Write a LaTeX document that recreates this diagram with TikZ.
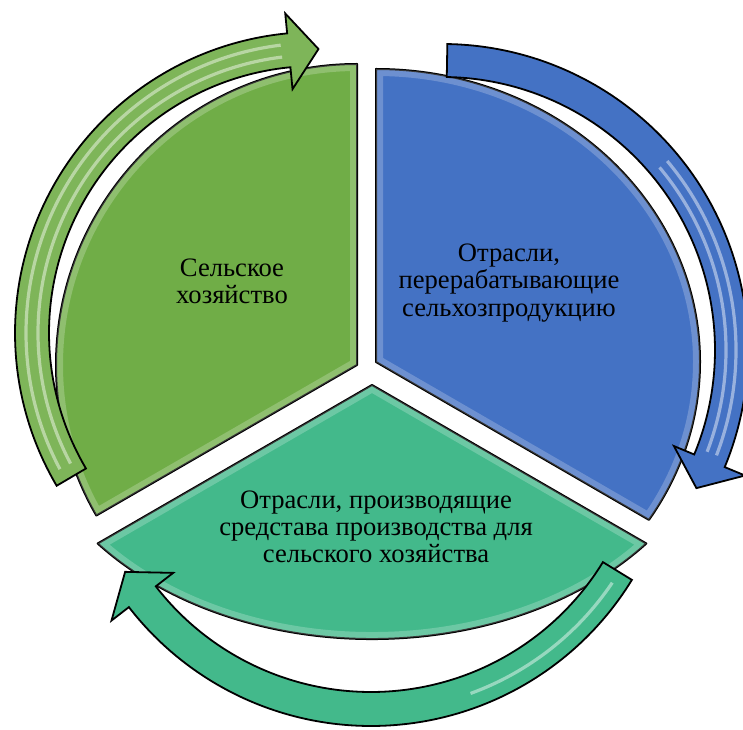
\documentclass[tikz,border=0pt]{standalone}
\usepackage{fontspec}
\setmainfont{Liberation Serif}
\definecolor{agrigreen}{RGB}{112, 173, 71}
\definecolor{procblue}{RGB}{68, 114, 196}
\definecolor{meansteal}{RGB}{67, 185, 139}
\usetikzlibrary{calc}

\tikzset{
  sector/.style={draw=black, line width=1pt, line join=round},
  cyclearrow/.style={draw=black, line width=0.9pt, line join=miter},
  bevel/.style={white, opacity=0.22, line width=7pt},
  gloss/.style={white, opacity=0.45, line width=1.6pt},
  sectortext/.style={align=center, text=black, font=\fontsize{13.3}{13.6}\selectfont},
}

% sector outlines (apex, straight edge, outer arc)
\newcommand{\agrisector}{(357,364) -- ++(0,301) arc[start angle=90, end angle=210, radius=301] -- cycle}
\newcommand{\procsector}{(376,367) -- ++(0,293) arc[start angle=90, end angle=-32.6, x radius=324, y radius=293] -- cycle}
\newcommand{\meanssector}{(372,344) -- ++(-274.3,-158.5) arc[start angle=218.6, end angle=321.4, x radius=351, y radius=254] -- cycle}

\begin{document}
\begin{tikzpicture}[x=0.5pt, y=0.5pt]
  \useasboundingbox (0,0) rectangle (743,729);

  % Agriculture
  \filldraw[fill=agrigreen, sector] \agrisector;
  \begin{scope}
    \clip \agrisector;
    \draw[bevel] \agrisector;
  \end{scope}

  % Processing industries
  \filldraw[fill=procblue, sector] \procsector;
  \begin{scope}
    \clip \procsector;
    \draw[bevel] \procsector;
  \end{scope}

  % Means of production
  \filldraw[fill=meansteal, sector] \meanssector;
  \begin{scope}
    \clip \meanssector;
    \draw[bevel] \meanssector;
  \end{scope}

  % Arrow round the green sector
  \begin{scope}[shift={(316,396)}]
    \filldraw[fill=agrigreen!90!white, cyclearrow] (210.5:301)
      arc[start angle=210.5, end angle=95.5, radius=301]
      -- (95.5:321) -- (89.5:284) -- (95.5:245) -- (95.5:267)
      arc[start angle=95.5, end angle=210.5, radius=267] -- cycle;
    \draw[gloss] (208:290) arc[start angle=208, end angle=97, radius=290];
    \draw[gloss] (208:278) arc[start angle=208, end angle=97, radius=278];
  \end{scope}

  % Arrow round the blue sector
  \begin{scope}[shift={(442,379)}]
    \filldraw[fill=procblue, cyclearrow] (89:306)
      arc[start angle=89, end angle=-22.5, radius=306]
      -- (-22.5:328) -- (-28.5:289.5) -- (-22.5:251) -- (-22.5:273)
      arc[start angle=-22.5, end angle=89, radius=273] -- cycle;
    \draw[gloss] (40:294) arc[start angle=40, end angle=-21, radius=294];
    \draw[gloss] (40:284) arc[start angle=40, end angle=-21, radius=284];
  \end{scope}

  % Arrow round the teal sector
  \begin{scope}[shift={(371,309)}]
    \filldraw[fill=meansteal, cyclearrow] (-31.5:306)
      arc[start angle=-31.5, end angle=-142.3, radius=306]
      -- (-142.3:328) -- (-148.3:289) -- (-142.3:250) -- (-142.3:272)
      arc[start angle=-142.3, end angle=-31.5, radius=272] -- cycle;
    \draw[gloss] (-34:291) arc[start angle=-34, end angle=-70, radius=291];
  \end{scope}

  % Sector texts
  \node[sectortext] (agri) at (232,448) {Сельское\\хозяйство};
  \node[sectortext] (proc) at (509,446) {Отрасли,\\перерабатывающие\\сельхозпродукцию};
  \node[sectortext] (means) at (376,202) {Отрасли, производящие\\средстава производства для\\сельского хозяйства};
\end{tikzpicture}
\end{document}
